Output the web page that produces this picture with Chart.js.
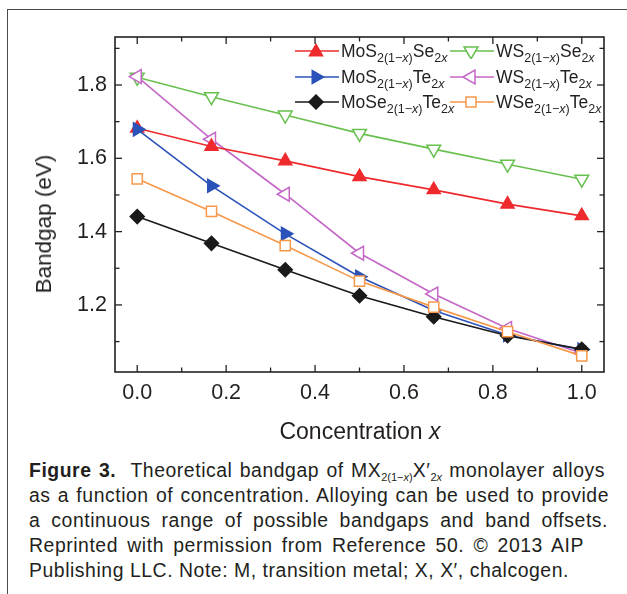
<!DOCTYPE html>
<html>
<head>
<meta charset="utf-8">
<script src="https://cdn.jsdelivr.net/npm/chart.js@4.4.1/dist/chart.umd.min.js"></script>
<style>
  html,body{margin:0;padding:0;background:#fff;}
  body{width:627px;height:594px;overflow:hidden;position:relative;font-family:"Liberation Sans",Arial,Helvetica,sans-serif;color:#231f20;}
  #frame{position:absolute;left:7px;top:9px;width:660px;height:640px;border:1.5px solid #4a4a4a;box-sizing:border-box;}
  #wrap{position:absolute;left:0;top:0;width:627px;height:450px;}
  #ytitle{position:absolute;left:44px;top:224px;transform:translate(-50%,-50%) rotate(-90deg);font-size:22.5px;white-space:nowrap;}
  #xtitle{position:absolute;left:360px;top:431px;transform:translate(-50%,-50%);font-size:23px;white-space:nowrap;}
  .leg{position:absolute;height:24px;white-space:nowrap;font-size:17.5px;line-height:24px;}
  .leg svg{position:absolute;left:0;top:4px;}
  .leg span{position:absolute;top:0;}
  .leg sub{font-size:12.5px;vertical-align:-5px;line-height:0;}
  #caption{position:absolute;left:29px;top:458px;font-size:19.4px;line-height:25px;letter-spacing:0.55px;}
  #caption div{height:25px;white-space:nowrap;}
  #caption .j{text-align:justify;text-align-last:justify;white-space:normal;overflow:hidden;}
  #caption sub{font-size:11px;vertical-align:-4px;line-height:0;letter-spacing:0;}
</style>
</head>
<body>
<div id="frame"></div>
<div id="wrap"><canvas id="c" width="627" height="450"></canvas></div>
<div id="ytitle">Bandgap (eV)</div>
<div id="xtitle">Concentration <i>x</i></div>
<div id="legend"></div>
<div id="caption">
  <div class="j" style="width:576px"><b>Figure 3.</b>&nbsp; Theoretical bandgap of MX<sub>2(1−<i>x</i>)</sub>X′<sub>2<i>x</i></sub> monolayer alloys</div>
  <div class="j" style="width:580px">as a function of concentration. Alloying can be used to provide</div>
  <div class="j" style="width:579px">a continuous range of possible bandgaps and band offsets.</div>
  <div class="j" style="width:555px">Reprinted with permission from Reference 50. © 2013 AIP</div>
  <div>Publishing LLC. Note: M, transition metal; X, X′, chalcogen.</div>
</div>
<script>
// ---- data ----
const concentration = [0.0, 0.167, 0.333, 0.5, 0.667, 0.833, 1.0];
const MoS2Se2 = [1.682, 1.632, 1.593, 1.550, 1.514, 1.475, 1.443];
const MoS2Te2 = [1.679, 1.525, 1.394, 1.277, 1.185, 1.118, 1.078];
const MoSe2Te2 = [1.441, 1.368, 1.296, 1.225, 1.168, 1.116, 1.079];
const WS2Se2 = [1.821, 1.768, 1.718, 1.668, 1.625, 1.584, 1.543];
const WS2Te2 = [1.823, 1.652, 1.502, 1.341, 1.230, 1.136, 1.068];
const WSe2Te2 = [1.544, 1.455, 1.362, 1.265, 1.194, 1.127, 1.061];
const seriesNames = [
  ["MoS","2(1−x)","Se","2x"],
  ["MoS","2(1−x)","Te","2x"],
  ["MoSe","2(1−x)","Te","2x"],
  ["WS","2(1−x)","Se","2x"],
  ["WS","2(1−x)","Te","2x"],
  ["WSe","2(1−x)","Te","2x"]
];
const xMajorTicks = [0.0, 0.2, 0.4, 0.6, 0.8, 1.0];
const xMinorTicks = [0.1, 0.3, 0.5, 0.7, 0.9];
const yMajorTicks = [1.2, 1.4, 1.6, 1.8];
const yMinorTicks = [1.1, 1.3, 1.5, 1.7, 1.9];

// ---- styles ----
const styles = [
  {color:'#ee2a2e', point:'triangle', rot:0,   fill:true,  r:7.5, order:3},
  {color:'#2b52b8', point:'triangle', rot:90,  fill:true,  r:7.5, order:2},
  {color:'#1a1a1a', point:'rectRot',  rot:0,   fill:true,  r:7,   order:1},
  {color:'#68c04f', point:'triangle', rot:180, fill:false, r:8,   order:5},
  {color:'#c467c6', point:'triangle', rot:270, fill:false, r:8,   order:4},
  {color:'#f6984a', point:'rect',     rot:0,   fill:false, r:7.2, order:0}
];
const seriesValues = [MoS2Se2, MoS2Te2, MoSe2Te2, WS2Se2, WS2Te2, WSe2Te2];

const datasets = seriesValues.map((vals,i)=>{
  const s = styles[i];
  const n = seriesNames[i];
  return {
    label: n[0]+n[1]+n[2]+n[3],
    data: vals.map((v,j)=>({x:concentration[j], y:v})),
    borderColor: s.color,
    backgroundColor: s.fill ? s.color : '#ffffff',
    pointBackgroundColor: s.fill ? s.color : '#ffffff',
    pointBorderColor: s.color,
    pointStyle: s.point,
    pointRotation: s.rot,
    pointRadius: s.r,
    pointHoverRadius: s.r,
    pointBorderWidth: 1.5,
    borderWidth: 1.6,
    tension: 0,
    order: s.order
  };
});

const FONT = '"Liberation Sans", Arial, Helvetica, sans-serif';

const boxTicks = {
  id:'boxTicks',
  afterDatasetsDraw(chart){
    const {ctx, chartArea:a, scales:{x,y}} = chart;
    ctx.save();
    ctx.strokeStyle = '#222';
    ctx.lineWidth = 1.3;
    const seg=(x1,y1,x2,y2)=>{ctx.beginPath();ctx.moveTo(x1,y1);ctx.lineTo(x2,y2);ctx.stroke();};
    const MAJ = 7, MIN = 4.5;
    xMajorTicks.forEach(v=>{const p=x.getPixelForValue(v); seg(p,a.bottom,p,a.bottom-MAJ); seg(p,a.top,p,a.top+MAJ);});
    xMinorTicks.forEach(v=>{const p=x.getPixelForValue(v); seg(p,a.bottom,p,a.bottom-MIN); seg(p,a.top,p,a.top+MIN);});
    yMajorTicks.forEach(v=>{const p=y.getPixelForValue(v); seg(a.left,p,a.left+MAJ,p); seg(a.right,p,a.right-MAJ,p);});
    yMinorTicks.forEach(v=>{const p=y.getPixelForValue(v); seg(a.left,p,a.left+MIN,p); seg(a.right,p,a.right-MIN,p);});
    ctx.lineWidth = 1.6;
    ctx.strokeRect(a.left, a.top, a.right-a.left, a.bottom-a.top);
    ctx.restore();
  }
};

new Chart(document.getElementById('c'), {
  type:'line',
  data:{datasets},
  options:{
    responsive:false,
    devicePixelRatio:1,
    animation:false,
    events:[],
    layout:{padding:{left:0, top:37, right:23, bottom:0}},
    plugins:{legend:{display:false}, tooltip:{enabled:false}},
    scales:{
      x:{
        type:'linear', min:-0.05, max:1.05,
        afterBuildTicks(s){ s.ticks = xMajorTicks.map(v=>({value:v})); },
        afterFit(s){ s.height = 78; },
        grid:{drawOnChartArea:false, drawTicks:false},
        border:{display:false},
        ticks:{padding:8, color:'#231f20', font:{family:FONT, size:21.5}, maxRotation:0, autoSkip:false,
          callback:(v)=>Number(v).toFixed(1)}
      },
      y:{
        type:'linear', min:1.017, max:1.931,
        afterBuildTicks(s){ s.ticks = yMajorTicks.map(v=>({value:v})); },
        afterFit(s){ s.width = 115; },
        grid:{drawOnChartArea:false, drawTicks:false},
        border:{display:false},
        ticks:{padding:8, color:'#231f20', font:{family:FONT, size:21.5}, autoSkip:false,
          callback:(v)=>Number(v).toFixed(1)}
      }
    }
  },
  plugins:[boxTicks]
});

// ---- legend (HTML overlay) ----
const legendPos = [
  {left:295, top:39}, {left:295, top:65}, {left:295, top:90},
  {left:450, top:39}, {left:450, top:65}, {left:450, top:90}
];
function markerSvg(s){
  const c = s.color, f = s.fill ? s.color : '#fff';
  const cx = 21, cy = 8;
  let shape = '';
  if (s.point==='rect') shape = `<rect x="${cx-5}" y="${cy-5}" width="10" height="10" fill="${f}" stroke="${c}" stroke-width="1.5"/>`;
  else if (s.point==='rectRot') shape = `<polygon points="${cx},${cy-7} ${cx+7},${cy} ${cx},${cy+7} ${cx-7},${cy}" fill="${f}" stroke="${c}" stroke-width="1.5"/>`;
  else {
    const r = s.r;
    const pts = [0,1,2].map(k=>{const a=(s.rot-90+k*120)*Math.PI/180; return (cx+r*Math.cos(a)).toFixed(2)+','+(cy+r*Math.sin(a)+ (s.rot===0?1:0)).toFixed(2);}).join(' ');
    shape = `<polygon points="${pts}" fill="${f}" stroke="${c}" stroke-width="1.5"/>`;
  }
  return `<svg width="44" height="16"><line x1="0" y1="${cy}" x2="44" y2="${cy}" stroke="${c}" stroke-width="1.6"/>${shape}</svg>`;
}
const legend = document.getElementById('legend');
seriesNames.forEach((n,i)=>{
  const d = document.createElement('div');
  d.className='leg';
  d.style.left = legendPos[i].left+'px';
  d.style.top = legendPos[i].top+'px';
  const sub1 = n[1].replace('x','<i>x</i>');
  const sub2 = n[3].replace('x','<i>x</i>');
  d.innerHTML = markerSvg(styles[i]) + `<span style="left:46px">${n[0]}<sub>${sub1}</sub>${n[2]}<sub>${sub2}</sub></span>`;
  legend.appendChild(d);
});
</script>
</body>
</html>
